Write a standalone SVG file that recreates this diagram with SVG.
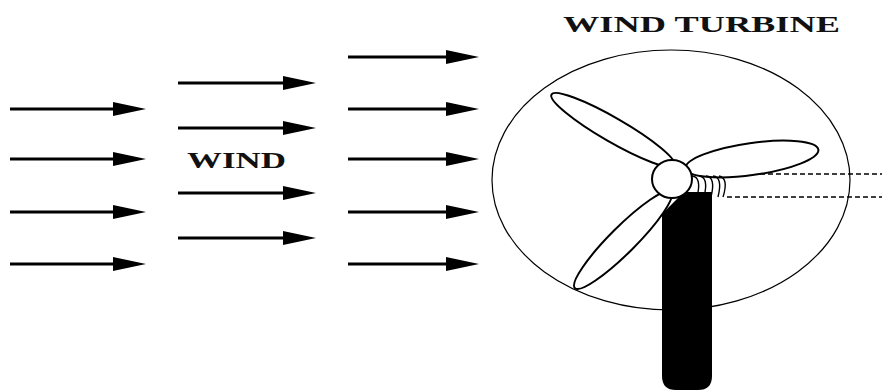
<svg xmlns="http://www.w3.org/2000/svg" width="882" height="392" viewBox="0 0 882 392">
  <style>
    .flow { stroke: #000; stroke-width: 3; fill: none; marker-end: url(#head); }
    .label { font-family: "Liberation Serif", "Times New Roman", serif; font-weight: bold; fill: #111; }
    .blade { fill: #fff; stroke: #000; stroke-width: 2; }
    .dash { stroke: #000; stroke-width: 1.6; stroke-dasharray: 5 3; fill: none; }
    .coil { stroke: #000; stroke-width: 1.4; fill: none; }
  </style>
  <defs>
    <marker id="head" markerUnits="userSpaceOnUse" markerWidth="34" markerHeight="16" viewBox="0 -8 34 16" refX="0" refY="0" orient="auto">
      <path d="M0,-7 L33,0 L0,7 Z" fill="#000"/>
    </marker>
  </defs>

  <rect width="882" height="392" fill="#fff"/>

  <!-- wind streamlines -->
  <g id="connectors">
    <line class="flow" x1="10" y1="109" x2="113" y2="109"/>
    <line class="flow" x1="10" y1="159" x2="113" y2="159"/>
    <line class="flow" x1="10" y1="212" x2="113" y2="212"/>
    <line class="flow" x1="10" y1="264" x2="113" y2="264"/>

    <line class="flow" x1="178" y1="83" x2="283" y2="83"/>
    <line class="flow" x1="178" y1="128" x2="283" y2="128"/>
    <line class="flow" x1="178" y1="193" x2="283" y2="193"/>
    <line class="flow" x1="178" y1="238" x2="283" y2="238"/>

    <line class="flow" x1="348" y1="57" x2="446" y2="57"/>
    <line class="flow" x1="348" y1="109" x2="446" y2="109"/>
    <line class="flow" x1="348" y1="159" x2="446" y2="159"/>
    <line class="flow" x1="348" y1="212" x2="446" y2="212"/>
    <line class="flow" x1="348" y1="264" x2="446" y2="264"/>
  </g>

  <g id="wind-label">
    <text class="label" x="187" y="168" font-size="23" textLength="99" lengthAdjust="spacingAndGlyphs">WIND</text>
  </g>

  <g id="turbine-label">
    <text class="label" x="563" y="32" font-size="24" textLength="277" lengthAdjust="spacingAndGlyphs">WIND TURBINE</text>
  </g>

  <g id="turbine">
    <!-- swept area -->
    <ellipse cx="671" cy="180" rx="179" ry="130" fill="none" stroke="#000" stroke-width="1.2"/>

    <!-- tower (top-left corner tucked under the lower blade) -->
    <path d="M684,192 H712 V376 Q712,390 698,390 H676 Q662,390 662,376 V214 Z" fill="#000"/>

    <!-- blades -->
    <ellipse class="blade" cx="613" cy="130" rx="71" ry="12" transform="rotate(30 613 130)"/>
    <ellipse class="blade" cx="752" cy="159" rx="67" ry="16" transform="rotate(-8 752 159)"/>
    <ellipse class="blade" cx="623" cy="240" rx="68" ry="13" transform="rotate(-45 623 240)"/>

    <!-- generator coil -->
    <path class="coil" d="M692,176 q10,1 5,21 M699,176 q10,1 5,21 M706,176 q10,1 5,21 M713,176 q10,1 5,21 M719,176 q10,2 4,21"/>

    <!-- hub -->
    <ellipse cx="672" cy="179" rx="20" ry="19" fill="#fff" stroke="#000" stroke-width="2"/>

    <!-- output leads -->
    <line class="dash" x1="760" y1="174" x2="882" y2="174"/>
    <line class="dash" x1="727" y1="197" x2="882" y2="197"/>
  </g>
</svg>
